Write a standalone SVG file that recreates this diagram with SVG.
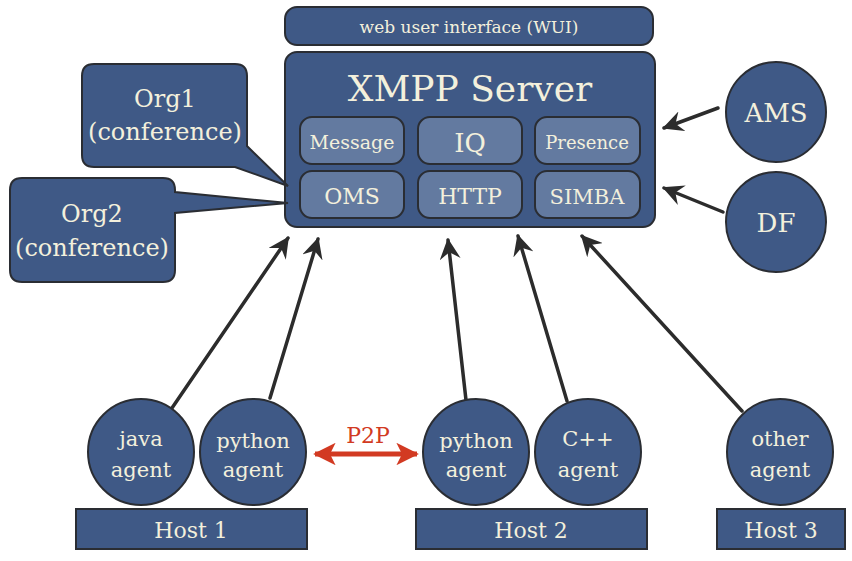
<svg xmlns="http://www.w3.org/2000/svg" width="852" height="561" viewBox="0 0 852 561">
<defs>
<style>
.box{fill:#3f5986;stroke:#2a2d33;stroke-width:2}
.inner{fill:#637aa0;stroke:#2a2d33;stroke-width:2}
.t{font-family:"DejaVu Serif","Liberation Serif",serif;fill:#f3f0dc;text-anchor:middle}
.conn{stroke:#2c2c2c;stroke-width:3.5;fill:none;stroke-linecap:round}
.p2p{stroke:#d23a22;stroke-width:5;fill:none}
</style>
<marker id="ah" viewBox="0 0 12 12" refX="11" refY="6" markerWidth="6" markerHeight="6" orient="auto" markerUnits="strokeWidth">
<path d="M0,0 L12,6 L0,12 L4,6 z" fill="#2c2c2c"/>
</marker>
<marker id="rh" viewBox="0 0 12 12" refX="11" refY="6" markerWidth="4.5" markerHeight="4.5" orient="auto-start-reverse" markerUnits="strokeWidth">
<path d="M0,0 L12,6 L0,12 L3,6 z" fill="#d23a22"/>
</marker>
</defs>
<rect width="852" height="561" fill="#ffffff"/>

<g id="connectors">
<line class="conn" x1="172" y1="408" x2="288" y2="238" marker-end="url(#ah)"/>
<line class="conn" x1="270" y1="398" x2="318" y2="239" marker-end="url(#ah)"/>
<line class="conn" x1="466" y1="400" x2="448" y2="240" marker-end="url(#ah)"/>
<line class="conn" x1="567" y1="401" x2="518" y2="236" marker-end="url(#ah)"/>
<line class="conn" x1="742" y1="411" x2="582" y2="236" marker-end="url(#ah)"/>
<line class="conn" x1="718" y1="108" x2="664" y2="128" marker-end="url(#ah)"/>
<line class="conn" x1="723" y1="212" x2="664" y2="188" marker-end="url(#ah)"/>
<line class="p2p" x1="315" y1="454" x2="417" y2="454" marker-start="url(#rh)" marker-end="url(#rh)"/>
<text x="368" y="443" font-family="DejaVu Serif, Liberation Serif, serif" font-size="22" fill="#d23a22" text-anchor="middle">P2P</text>
</g>

<g id="wui">
<rect class="box" x="285" y="7" width="368" height="38" rx="12"/>
<text class="t" x="469" y="33" font-size="17">web user interface (WUI)</text>
</g>

<g id="xmpp">
<rect class="box" x="285" y="52" width="370" height="175" rx="12"/>
<text class="t" x="470" y="101" font-size="36">XMPP Server</text>
</g>
<g id="message"><rect class="inner" x="300" y="117" width="104" height="47" rx="12"/><text class="t" x="352" y="149" font-size="19">Message</text></g>
<g id="iq"><rect class="inner" x="418" y="117" width="104" height="47" rx="12"/><text class="t" x="470" y="152" font-size="26">IQ</text></g>
<g id="presence"><rect class="inner" x="535" y="117" width="105" height="47" rx="12"/><text class="t" x="587" y="149" font-size="18">Presence</text></g>
<g id="oms"><rect class="inner" x="300" y="171" width="104" height="47" rx="12"/><text class="t" x="352" y="204" font-size="22">OMS</text></g>
<g id="http"><rect class="inner" x="418" y="171" width="104" height="47" rx="12"/><text class="t" x="470" y="204" font-size="22">HTTP</text></g>
<g id="simba"><rect class="inner" x="535" y="171" width="105" height="47" rx="12"/><text class="t" x="587" y="204" font-size="21">SIMBA</text></g>

<g id="org1">
<path class="box" d="M94,64 H235 Q247,64 247,76 V146 L288,186 L235,167 H94 Q82,167 82,155 V76 Q82,64 94,64 Z"/>
<text class="t" x="165" y="107" font-size="24">Org1</text>
<text class="t" x="165" y="140" font-size="24">(conference)</text>
</g>
<g id="org2">
<path class="box" d="M22,178 H163 Q175,178 175,190 V192 L288,203 L175,213 V270 Q175,282 163,282 H22 Q10,282 10,270 V190 Q10,178 22,178 Z"/>
<text class="t" x="92" y="222" font-size="24">Org2</text>
<text class="t" x="92" y="256" font-size="24">(conference)</text>
</g>

<g id="ams"><circle class="box" cx="776" cy="112" r="50"/><text class="t" x="776" y="122" font-size="26">AMS</text></g>
<g id="df"><circle class="box" cx="776" cy="222" r="50"/><text class="t" x="776" y="232" font-size="26">DF</text></g>

<g id="java"><circle class="box" cx="141" cy="452" r="53"/><text class="t" x="141" y="446" font-size="21">java</text><text class="t" x="141" y="477" font-size="21">agent</text></g>
<g id="python1"><circle class="box" cx="253" cy="452" r="53"/><text class="t" x="253" y="448" font-size="21">python</text><text class="t" x="253" y="477" font-size="21">agent</text></g>
<g id="python2"><circle class="box" cx="476" cy="452" r="53"/><text class="t" x="476" y="448" font-size="21">python</text><text class="t" x="476" y="477" font-size="21">agent</text></g>
<g id="cpp"><circle class="box" cx="588" cy="452" r="53"/><text class="t" x="588" y="446" font-size="21">C++</text><text class="t" x="588" y="477" font-size="21">agent</text></g>
<g id="other"><circle class="box" cx="780" cy="452" r="53"/><text class="t" x="780" y="446" font-size="21">other</text><text class="t" x="780" y="477" font-size="21">agent</text></g>

<g id="host1"><rect class="box" x="76" y="509" width="231" height="40"/><text class="t" x="191" y="538" font-size="22">Host 1</text></g>
<g id="host2"><rect class="box" x="416" y="509" width="231" height="40"/><text class="t" x="531" y="538" font-size="22">Host 2</text></g>
<g id="host3"><rect class="box" x="717" y="509" width="128" height="40"/><text class="t" x="781" y="538" font-size="22">Host 3</text></g>
</svg>
